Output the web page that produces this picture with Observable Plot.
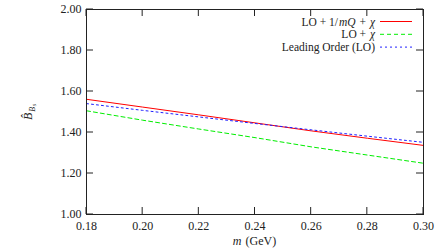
<!DOCTYPE html>
<html><head><meta charset="utf-8">
<script src="https://cdn.jsdelivr.net/npm/d3@7"></script>
<script src="https://cdn.jsdelivr.net/npm/@observablehq/plot@0.6"></script>
<style>body{margin:0;background:#fff} svg{display:block}</style>
</head><body><div id="chart"></div>
<script>
// Data
const m = [0.18, 0.20, 0.22, 0.24, 0.26, 0.28, 0.30];
const loMqChi = [1.562, 1.524, 1.486, 1.447, 1.408, 1.372, 1.337]; // LO + 1/mQ + χ
const loChi   = [1.506, 1.460, 1.417, 1.375, 1.330, 1.290, 1.250]; // LO + χ
const lo      = [1.541, 1.508, 1.476, 1.444, 1.413, 1.382, 1.352]; // Leading Order (LO)
const xTicks = [0.18, 0.20, 0.22, 0.24, 0.26, 0.28, 0.30];
const yTicks = [1.0, 1.2, 1.4, 1.6, 1.8, 2.0];

const series = [
  {key: "mq", values: loMqChi, color: "#ff0000", dash: null},
  {key: "chi", values: loChi, color: "#00ee00", dash: "4,3"},
  {key: "lo", values: lo, color: "#2020ff", dash: "2,3"}
];
const rows = series.flatMap(s => m.map((x, i) => ({m: x, v: s.values[i], key: s.key})));

const FONT = "'Liberation Serif', 'DejaVu Serif', serif";
const axisColor = "#222";

const plot = Plot.plot({
  width: 436, height: 250,
  marginLeft: 86, marginRight: 13, marginTop: 9, marginBottom: 36,
  style: {fontFamily: FONT, fontSize: "12px", background: "#fff", color: "#222"},
  x: {domain: [0.18, 0.30], ticks: xTicks, tickFormat: d3.format(".2f"), tickSize: 0, tickPadding: 7, label: null},
  y: {domain: [1, 2], ticks: yTicks, tickFormat: d3.format(".2f"), tickSize: 0, tickPadding: 5, label: null},
  marks: [
    ...series.map(s => Plot.line(rows.filter(r => r.key === s.key), {
      x: "m", y: "v", stroke: s.color, strokeWidth: 1, strokeDasharray: s.dash
    })),
    Plot.frame({stroke: axisColor, strokeWidth: 1})
  ]
});

const svg = d3.select(plot);
const sx = plot.scale("x"), sy = plot.scale("y");
const X0 = sx.apply(0.18), X1 = sx.apply(0.30), Y0 = sy.apply(1), Y1 = sy.apply(2);
const tk = svg.append("g").attr("stroke", axisColor).attr("stroke-width", 1);
xTicks.forEach(v => {
  const x = sx.apply(v);
  tk.append("line").attr("x1", x).attr("x2", x).attr("y1", Y0).attr("y2", Y0 - 7);
  tk.append("line").attr("x1", x).attr("x2", x).attr("y1", Y1).attr("y2", Y1 + 7);
});
yTicks.forEach(v => {
  const y = sy.apply(v);
  tk.append("line").attr("x1", X0).attr("x2", X0 + 7).attr("y1", y).attr("y2", y);
  tk.append("line").attr("x1", X1).attr("x2", X1 - 7).attr("y1", y).attr("y2", y);
});

// Y-axis label  B̂_{B_s}
const yl = svg.append("text")
  .attr("transform", "translate(32,112) rotate(-90)")
  .attr("text-anchor", "middle")
  .attr("font-family", FONT).attr("font-size", 12).attr("fill", "#222");
yl.append("tspan").attr("font-style", "italic").text("B\u0302");
yl.append("tspan").attr("font-style", "italic").attr("font-size", 8).attr("dx", 1).attr("dy", 2.5).text("B");
yl.append("tspan").attr("font-style", "italic").attr("font-size", 6).attr("dx", 0.5).attr("dy", 1.5).text("s");

// X-axis label
const xl = svg.append("text")
  .attr("x", (X0 + X1) / 2).attr("y", 245)
  .attr("text-anchor", "middle")
  .attr("font-family", FONT).attr("font-size", 12).attr("fill", "#222");
xl.append("tspan").attr("font-style", "italic").text("m");
xl.append("tspan").attr("dx", 1).text(" (GeV)");

// Legend
const legendParts = [
  [["LO + 1/", false], ["mQ", true], [" + ", false], ["\u03C7", true]],
  [["LO + ", false], ["\u03C7", true]],
  [["Leading Order (LO)", false]]
];
const lg = svg.append("g");
series.forEach((s, i) => {
  const y = 21.5 + 12.8 * i;
  const t = lg.append("text").attr("x", 375).attr("y", y).attr("dy", "0.35em")
    .attr("text-anchor", "end").attr("font-family", FONT).attr("font-size", 11.5).attr("fill", "#222");
  legendParts[i].forEach(([txt, it], j) => {
    const ts = t.append("tspan").attr("font-style", it ? "italic" : "normal").text(txt);
    if (j > 0) ts.attr("dx", 1);
  });
  lg.append("line").attr("x1", 380).attr("x2", 412).attr("y1", y).attr("y2", y)
    .attr("stroke", s.color).attr("stroke-width", 1).attr("stroke-dasharray", s.dash);
});

document.getElementById("chart").appendChild(plot);
</script>
</body></html>
